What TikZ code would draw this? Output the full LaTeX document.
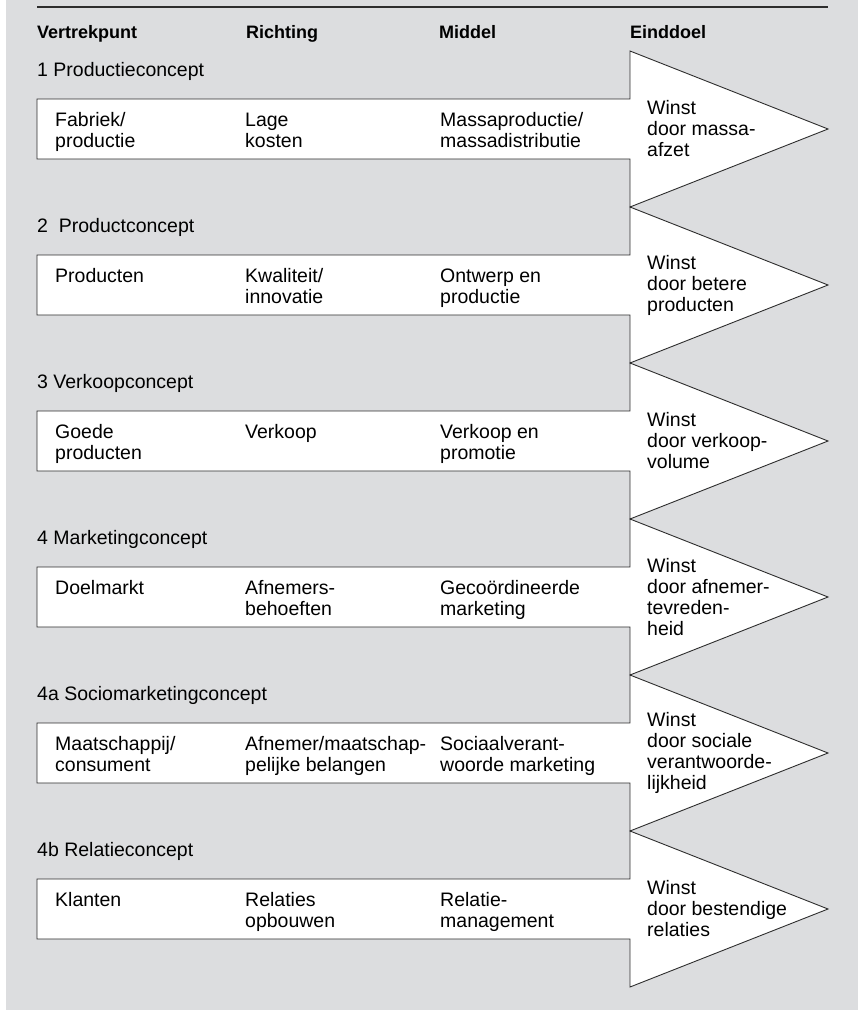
\documentclass[tikz,border=0pt]{standalone}
\usepackage{fontspec}
\setmainfont{Liberation Sans}
\usepackage{tikz}
\usetikzlibrary{calc}

\definecolor{achtergrond}{RGB}{220,221,223}
\definecolor{lijnkleur}{RGB}{45,45,45}
\newcommand{\celfont}{\fontsize{19.5}{21}\selectfont}
\newcommand{\kopfont}{\fontsize{18}{21}\selectfont\bfseries}

\begin{document}
\begin{tikzpicture}[x=1pt, y=-1pt,
    pijl/.style={fill=white, draw=lijnkleur, line width=0.9pt},
    kop/.style={anchor=base west, inner sep=0pt, font=\kopfont},
    titel/.style={anchor=base west, inner sep=0pt, font=\celfont},
    cel/.style={anchor=north west, inner sep=0pt, align=left, font=\celfont},
    doel/.style={anchor=west, inner sep=0pt, align=left, font=\celfont}]
\useasboundingbox (0,0) rectangle (861,1010);
\fill [achtergrond] (6,0) rectangle (858,1010);
\draw [lijnkleur, line width=2.5pt] (37,7) -- (828,7);

% kolomkoppen
\node [kop] (kop1) at (37,38) {Vertrekpunt};
\node [kop] (kop2) at (246,38) {Richting};
\node [kop] (kop3) at (439,38) {Middel};
\node [kop] (kop4) at (630,38) {Einddoel};

% balken met pijlpunt
\foreach \k in {0,...,5}
  \draw [pijl] (37,{99+156*\k}) -- (630,{99+156*\k}) -- (630,{51+156*\k})
    -- (828,{129+156*\k}) -- (630,{207+156*\k}) -- (630,{159+156*\k})
    -- (37,{159+156*\k}) -- cycle;

% 1
\node [titel] (titel1) at (37,76) {1 Productieconcept};
\node [cel] (vertrek1) at (55,112) {\strut Fabriek/\\productie};
\node [cel] (richting1) at (245,112) {\strut Lage\\kosten};
\node [cel] (middel1) at (440,112) {\strut Massaproductie/\\massadistributie};
\node [doel] (doel1) at (647,129) {Winst\\door massa-\\afzet};

% 2
\node [titel] (titel2) at (37,232) {2 \ Productconcept};
\node [cel] (vertrek2) at (55,268) {\strut Producten};
\node [cel] (richting2) at (245,268) {\strut Kwaliteit/\\innovatie};
\node [cel] (middel2) at (440,268) {\strut Ontwerp en\\productie};
\node [doel] (doel2) at (647,285) {Winst\\door betere\\producten};

% 3
\node [titel] (titel3) at (37,388) {3 Verkoopconcept};
\node [cel] (vertrek3) at (55,424) {\strut Goede\\producten};
\node [cel] (richting3) at (245,424) {\strut Verkoop};
\node [cel] (middel3) at (440,424) {\strut Verkoop en\\promotie};
\node [doel] (doel3) at (647,441) {Winst\\door verkoop-\\volume};

% 4
\node [titel] (titel4) at (37,544) {4 Marketingconcept};
\node [cel] (vertrek4) at (55,580) {\strut Doelmarkt};
\node [cel] (richting4) at (245,580) {\strut Afnemers-\\behoeften};
\node [cel] (middel4) at (440,580) {\strut Gecoördineerde\\marketing};
\node [doel] (doel4) at (647,597) {Winst\\door afnemer-\\tevreden-\\heid};

% 4a
\node [titel] (titel5) at (37,700) {4a Sociomarketingconcept};
\node [cel] (vertrek5) at (55,736) {\strut Maatschappij/\\consument};
\node [cel] (richting5) at (245,736) {\strut Afnemer/maatschap-\\pelijke belangen};
\node [cel] (middel5) at (440,736) {\strut Sociaalverant-\\woorde marketing};
\node [doel] (doel5) at (647,753) {Winst\\door sociale\\verantwoorde-\\lijkheid};

% 4b
\node [titel] (titel6) at (37,856) {4b Relatieconcept};
\node [cel] (vertrek6) at (55,892) {\strut Klanten};
\node [cel] (richting6) at (245,892) {\strut Relaties\\opbouwen};
\node [cel] (middel6) at (440,892) {\strut Relatie-\\management};
\node [doel] (doel6) at (647,909) {Winst\\door bestendige\\relaties};

\end{tikzpicture}
\end{document}
